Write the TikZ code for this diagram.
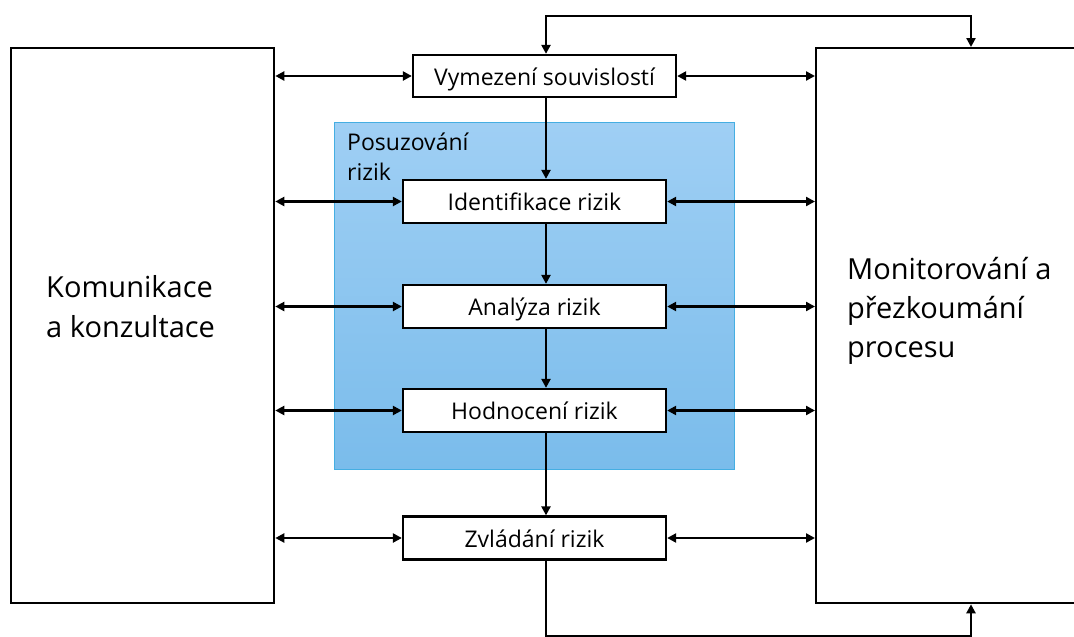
\documentclass[tikz,border=0pt]{standalone}
\usepackage{fontspec}
\setmainfont{Open Sans}
\usetikzlibrary{arrows.meta,calc}
\definecolor{bluetop}{HTML}{9FCFF4}
\definecolor{bluebot}{HTML}{7ABCEB}
\definecolor{blueedge}{HTML}{45AEE2}
\tikzset{
  line/.style={line width=2.3pt, draw=black},
  tip/.style={-{Triangle[length=9pt,width=9pt]}},
  dtip/.style={{Triangle[length=9pt,width=9pt]}-{Triangle[length=9pt,width=9pt]}},
  stepbox/.style={line, fill=white, minimum width=263pt, minimum height=43pt, inner sep=0pt, text height=22pt, text depth=4pt, font=\fontsize{23}{26}\selectfont},
  bigbox/.style={line, fill=white, inner sep=0pt},
  bigtext/.style={anchor=base west, inner sep=0pt, font=\fontsize{29}{35}\selectfont},
  midtext/.style={anchor=base west, inner sep=0pt, font=\fontsize{23}{26}\selectfont},
}
\begin{document}
\begin{tikzpicture}[x=1pt,y=-1pt]
\useasboundingbox (0,0) rectangle (1074,637);
\clip (0,0) rectangle (1074,637);
% blue area
\node[draw=blueedge, line width=1pt, top color=bluetop, bottom color=bluebot, minimum width=400pt, minimum height=347pt, inner sep=0pt, anchor=north west] (ra) at (334,122) {};
\node[midtext] (ra1) at (347,150) {Posuzování};
\node[midtext] (ra2) at (347,180) {rizik};
% big boxes
\node[bigbox, minimum width=263pt, minimum height=555pt, anchor=north west] (kom) at (10,47) {};
\node[bigbox, minimum width=280pt, minimum height=555pt, anchor=north west] (mon) at (815,47) {};
\node[bigtext] (k1) at (46,297) {Komunikace};
\node[bigtext] (k2) at (46,337) {a konzultace};
\node[bigtext] (m1) at (847,279) {Monitorování a};
\node[bigtext] (m2) at (847,318) {přezkoumání};
\node[bigtext] (m3) at (847,357) {procesu};
% step boxes
\node[stepbox, minimum height=42pt] (vym) at (544.5,76) {Vymezení souvislostí};
\node[stepbox] (ide) at (534.5,201.5) {Identifikace rizik};
\node[stepbox] (ana) at (534.5,306.5) {Analýza rizik};
\node[stepbox] (hod) at (534.5,410.5) {Hodnocení rizik};
\node[stepbox] (zvl) at (534.5,538) {Zvládání rizik};
% vertical flow
\draw[line,tip] (vym.south -| 546,0) -- (ide.north -| 546,0);
\draw[line,tip] (ide.south -| 546,0) -- (ana.north -| 546,0);
\draw[line,tip] (ana.south -| 546,0) -- (hod.north -| 546,0);
\draw[line,tip] (hod.south -| 546,0) -- (zvl.north -| 546,0);
% top loop
\coordinate (tl) at (546,16);
\coordinate (tr) at (971,16);
\draw[line,dtip] (vym.north -| tl) -- (tl) -- (tr) -- (mon.north -| tr);
% bottom loop
\coordinate (bl) at (546,636);
\coordinate (br) at (971,636);
\draw[line,tip] (zvl.south -| bl) -- (bl) -- (br) -- (mon.south -| br);
% horizontal arrows
\foreach \n in {vym,ide,ana,hod,zvl}{
  \draw[line,dtip] (kom.east |- \n.west) -- (\n.west);
  \draw[line,dtip] (\n.east) -- (mon.west |- \n.east);
}
\end{tikzpicture}
\end{document}
